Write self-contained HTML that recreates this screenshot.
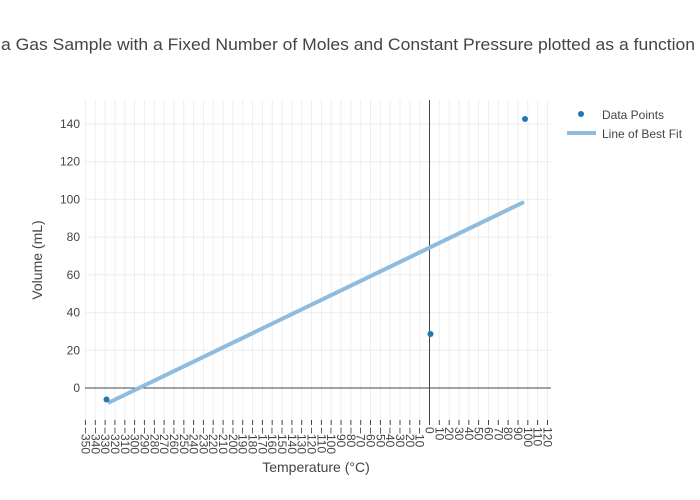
<!DOCTYPE html>
<html><head><meta charset="utf-8"><style>
html,body{margin:0;padding:0;background:#fff;}
svg{display:block;font-family:"Liberation Sans","DejaVu Sans",sans-serif;}
</style></head><body>
<svg id="s" width="700" height="500" viewBox="0 0 700 500" xmlns="http://www.w3.org/2000/svg">
<rect width="700" height="500" fill="#fff"/>
<g id="grid"></g>
<text x="1" y="50" font-size="17" fill="#444" textLength="694" lengthAdjust="spacingAndGlyphs">a Gas Sample with a Fixed Number of Moles and Constant Pressure plotted as a function</text>
<line x1="85" y1="388" x2="551" y2="388" stroke="#444" stroke-width="1"/>
<line x1="429.5" y1="100" x2="429.5" y2="420" stroke="#444" stroke-width="1"/>
<line x1="108" y1="403" x2="524" y2="202" stroke="#8fbbdc" stroke-width="4"/>
<circle cx="106.5" cy="399.5" r="3" fill="#1f77b4"/>
<circle cx="430.5" cy="334" r="3" fill="#1f77b4"/>
<circle cx="525" cy="119" r="3" fill="#1f77b4"/>
<text x="316" y="472" font-size="14" fill="#444" text-anchor="middle">Temperature (°C)</text>
<text transform="translate(42,260) rotate(-90)" font-size="14" fill="#444" text-anchor="middle">Volume (mL)</text>
<circle cx="581" cy="114" r="3" fill="#1f77b4"/>
<text x="602" y="119" font-size="12" fill="#444">Data Points</text>
<line x1="567" y1="133" x2="596" y2="133" stroke="#8fbbdc" stroke-width="4"/>
<text x="602" y="138" font-size="12" fill="#444">Line of Best Fit</text>
</svg>
<script>
var g=document.getElementById('grid'),ns='http://www.w3.org/2000/svg',h='';
function X(v){return 429.5+v*0.983;}
function Y(v){return 388-v*1.886;}
for(var v=-350;v<=120;v+=10){var x=X(v).toFixed(1);
 if(v!==0)h+='<line x1="'+x+'" y1="100" x2="'+x+'" y2="420" stroke="#eee" stroke-width="1"/>';
 h+='<line x1="'+x+'" y1="420" x2="'+x+'" y2="425" stroke="#444" stroke-width="1"/>';
 var lab=(v<0?'\u2212'+(-v):''+v);
 h+='<text transform="translate('+(X(v)-4).toFixed(1)+',427) rotate(90)" font-size="12" fill="#444">'+lab+'</text>';}
for(var v=0;v<=140;v+=20){var y=Y(v).toFixed(1);
 if(v!==0)h+='<line x1="85" y1="'+y+'" x2="551" y2="'+y+'" stroke="#eee" stroke-width="1"/>';
 h+='<text x="80" y="'+(Y(v)+4).toFixed(1)+'" font-size="12" fill="#444" text-anchor="end">'+v+'</text>';}
g.innerHTML=h;
</script>
</body></html>
